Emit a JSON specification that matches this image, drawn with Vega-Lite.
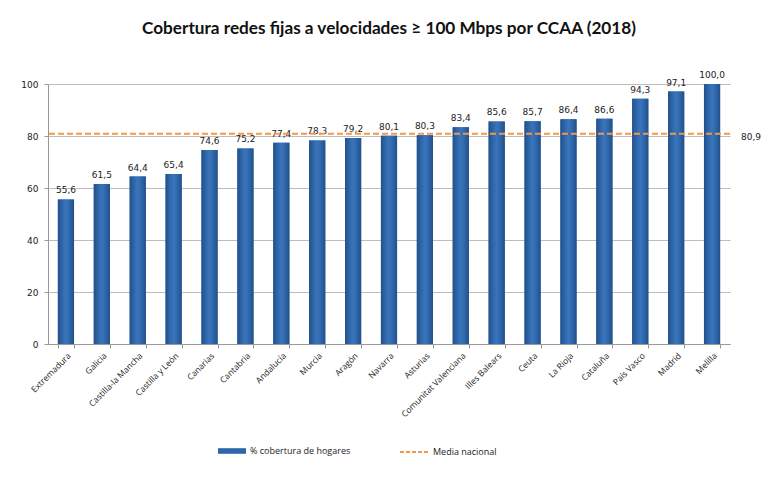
{
  "$schema": "https://vega.github.io/schema/vega-lite/v6.json",
  "width": 682,
  "height": 260,
  "autosize": "none",
  "padding": {"left": 48, "top": 84, "right": 42, "bottom": 148},
  "background": "white",
  "config": {
    "locale": {"number": {"decimal": ",", "thousands": ".", "grouping": [3], "currency": ["", " €"]}},
    "view": {"stroke": null},
    "legend": {"labelFont": "Open Sans", "labelFontSize": 9, "labelColor": "#222", "title": null}
  },
  "title": {
    "text": "Cobertura redes fijas a velocidades ≥ 100 Mbps por CCAA (2018)",
    "font": "Lato",
    "fontSize": 17.2,
    "fontWeight": "bold",
    "color": "#111",
    "offset": 34,
    "anchor": "middle"
  },
  "data": {
    "values": [
      {"ccaa": "Extremadura", "valor": 55.6},
      {"ccaa": "Galicia", "valor": 61.5},
      {"ccaa": "Castilla-la Mancha", "valor": 64.4},
      {"ccaa": "Castilla y León", "valor": 65.4},
      {"ccaa": "Canarias", "valor": 74.6},
      {"ccaa": "Cantabria", "valor": 75.2},
      {"ccaa": "Andalucía", "valor": 77.4},
      {"ccaa": "Murcia", "valor": 78.3},
      {"ccaa": "Aragón", "valor": 79.2},
      {"ccaa": "Navarra", "valor": 80.1},
      {"ccaa": "Asturias", "valor": 80.3},
      {"ccaa": "Comunitat Valenciana", "valor": 83.4},
      {"ccaa": "Illes Balears", "valor": 85.6},
      {"ccaa": "Ceuta", "valor": 85.7},
      {"ccaa": "La Rioja", "valor": 86.4},
      {"ccaa": "Cataluña", "valor": 86.6},
      {"ccaa": "País Vasco", "valor": 94.3},
      {"ccaa": "Madrid", "valor": 97.1},
      {"ccaa": "Melilla", "valor": 100.0}
    ]
  },
  "layer": [
    {
      "mark": {"type": "bar"},
      "encoding": {
        "x": {
          "field": "ccaa", "type": "nominal", "sort": null,
          "scale": {"paddingInner": 0.55, "paddingOuter": 0.275},
          "axis": {
            "title": null, "labelAngle": -45, "labelFont": "Open Sans", "labelFontSize": 8.5,
            "labelColor": "#222", "tickBand": "extent", "domainColor": "#999", "tickColor": "#999",
            "tickSize": 4, "labelPadding": 3, "grid": false
          }
        },
        "y": {
          "field": "valor", "type": "quantitative",
          "scale": {"domain": [0, 100]},
          "axis": {
            "title": null, "values": [0, 20, 40, 60, 80, 100], "gridColor": "#bdbdbd",
            "domainColor": "#999", "tickColor": "#999", "tickSize": 4, "labelFont": "DejaVu Sans",
            "labelFontSize": 9, "labelColor": "#222", "labelPadding": 6, "format": "d"
          }
        },
        "fill": {
          "datum": "% cobertura de hogares",
          "type": "nominal",
          "scale": {"range": ["#2f66ab"]},
          "legend": {
            "orient": "none", "legendX": 170, "legendY": 353,
            "symbolType": "M-1,-0.2H1V0.2H-1Z", "symbolSize": 784, "symbolStrokeWidth": 0
          }
        }
      }
    },
    {
      "mark": {"type": "bar", "fill": {"gradient": "linear", "x1": 0, "x2": 1, "y1": 0, "y2": 0, "stops": [
            {"offset": 0, "color": "#22508a"},
            {"offset": 0.3, "color": "#3069ad"},
            {"offset": 0.5, "color": "#3a74ba"},
            {"offset": 0.7, "color": "#3069ad"},
            {"offset": 1, "color": "#22508a"}
          ]}},
      "encoding": {
        "x": {"field": "ccaa", "type": "nominal", "sort": null},
        "y": {"field": "valor", "type": "quantitative"}
      }
    },
    {
      "mark": {"type": "text", "baseline": "bottom", "dy": -4, "font": "DejaVu Sans", "fontSize": 9, "color": "#222"},
      "encoding": {
        "x": {"field": "ccaa", "type": "nominal", "sort": null},
        "y": {"field": "valor", "type": "quantitative"},
        "text": {"field": "valor", "type": "quantitative", "format": ".1f"}
      }
    },
    {
      "data": {"values": [{"media": 80.9}]},
      "mark": {"type": "rule", "strokeDash": [6, 3], "strokeWidth": 2},
      "encoding": {
        "y": {"field": "media", "type": "quantitative"},
        "stroke": {
          "datum": "Media nacional", "type": "nominal",
          "scale": {"range": ["#f79646"]},
          "legend": {
            "orient": "none", "legendX": 351, "legendY": 353,
            "symbolType": "stroke", "symbolSize": 784, "symbolStrokeWidth": 2, "symbolDash": [4, 2]
          }
        }
      }
    },
    {
      "data": {"values": [{"media": 80.9}]},
      "mark": {"type": "text", "align": "left", "dx": 29, "dy": 3, "font": "DejaVu Sans", "fontSize": 9, "color": "#222"},
      "encoding": {
        "x": {"datum": "Melilla", "type": "nominal"},
        "y": {"field": "media", "type": "quantitative"},
        "text": {"field": "media", "type": "quantitative", "format": ".1f"}
      }
    }
  ]
}
